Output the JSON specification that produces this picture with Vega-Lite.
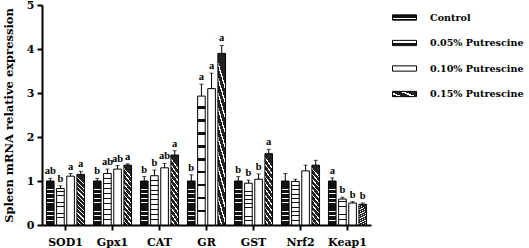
{
  "$schema": "https://vega.github.io/schema/vega-lite/v6.json",
  "autosize": {"type": "none"},
  "padding": {"left": 42, "top": 5, "right": 158, "bottom": 23},
  "width": 329,
  "height": 220,
  "config": {"view": {"stroke": null}, "font": "DejaVu Serif"},
  "params": [
    {"name": "g0", "value": {"gradient": "linear", "x1": 0, "y1": 0, "x2": 0, "y2": 1, "stops": [
      {"offset": 0, "color": "#111"}, {"offset": 0.08, "color": "#111"}, {"offset": 0.08, "color": "#fff"}, {"offset": 0.1, "color": "#fff"},
      {"offset": 0.1, "color": "#111"}, {"offset": 0.18, "color": "#111"}, {"offset": 0.18, "color": "#fff"}, {"offset": 0.2, "color": "#fff"},
      {"offset": 0.2, "color": "#111"}, {"offset": 0.28, "color": "#111"}, {"offset": 0.28, "color": "#fff"}, {"offset": 0.3, "color": "#fff"},
      {"offset": 0.3, "color": "#111"}, {"offset": 0.38, "color": "#111"}, {"offset": 0.38, "color": "#fff"}, {"offset": 0.4, "color": "#fff"},
      {"offset": 0.4, "color": "#111"}, {"offset": 0.48, "color": "#111"}, {"offset": 0.48, "color": "#fff"}, {"offset": 0.5, "color": "#fff"},
      {"offset": 0.5, "color": "#111"}, {"offset": 0.58, "color": "#111"}, {"offset": 0.58, "color": "#fff"}, {"offset": 0.6, "color": "#fff"},
      {"offset": 0.6, "color": "#111"}, {"offset": 0.68, "color": "#111"}, {"offset": 0.68, "color": "#fff"}, {"offset": 0.7, "color": "#fff"},
      {"offset": 0.7, "color": "#111"}, {"offset": 0.78, "color": "#111"}, {"offset": 0.78, "color": "#fff"}, {"offset": 0.8, "color": "#fff"},
      {"offset": 0.8, "color": "#111"}, {"offset": 0.88, "color": "#111"}, {"offset": 0.88, "color": "#fff"}, {"offset": 0.9, "color": "#fff"},
      {"offset": 0.9, "color": "#111"}, {"offset": 1, "color": "#111"}]}},
    {"name": "g1", "value": {"gradient": "linear", "x1": 0, "y1": 0, "x2": 0, "y2": 1, "stops": [
      {"offset": 0, "color": "#fff"}, {"offset": 0.08, "color": "#fff"}, {"offset": 0.08, "color": "#111"}, {"offset": 0.1, "color": "#111"},
      {"offset": 0.1, "color": "#fff"}, {"offset": 0.18, "color": "#fff"}, {"offset": 0.18, "color": "#111"}, {"offset": 0.2, "color": "#111"},
      {"offset": 0.2, "color": "#fff"}, {"offset": 0.28, "color": "#fff"}, {"offset": 0.28, "color": "#111"}, {"offset": 0.3, "color": "#111"},
      {"offset": 0.3, "color": "#fff"}, {"offset": 0.38, "color": "#fff"}, {"offset": 0.38, "color": "#111"}, {"offset": 0.4, "color": "#111"},
      {"offset": 0.4, "color": "#fff"}, {"offset": 0.48, "color": "#fff"}, {"offset": 0.48, "color": "#111"}, {"offset": 0.5, "color": "#111"},
      {"offset": 0.5, "color": "#fff"}, {"offset": 0.58, "color": "#fff"}, {"offset": 0.58, "color": "#111"}, {"offset": 0.6, "color": "#111"},
      {"offset": 0.6, "color": "#fff"}, {"offset": 0.68, "color": "#fff"}, {"offset": 0.68, "color": "#111"}, {"offset": 0.7, "color": "#111"},
      {"offset": 0.7, "color": "#fff"}, {"offset": 0.78, "color": "#fff"}, {"offset": 0.78, "color": "#111"}, {"offset": 0.8, "color": "#111"},
      {"offset": 0.8, "color": "#fff"}, {"offset": 0.88, "color": "#fff"}, {"offset": 0.88, "color": "#111"}, {"offset": 0.9, "color": "#111"},
      {"offset": 0.9, "color": "#fff"}, {"offset": 1, "color": "#fff"}]}},
    {"name": "g3", "value": {"gradient": "linear", "x1": 0, "y1": 1, "x2": 0.15, "y2": 0, "stops": [
      {"offset": 0, "color": "#222"}, {"offset": 0.06, "color": "#222"}, {"offset": 0.06, "color": "#fff"}, {"offset": 0.085, "color": "#fff"},
      {"offset": 0.085, "color": "#222"}, {"offset": 0.145, "color": "#222"}, {"offset": 0.145, "color": "#fff"}, {"offset": 0.17, "color": "#fff"},
      {"offset": 0.17, "color": "#222"}, {"offset": 0.23, "color": "#222"}, {"offset": 0.23, "color": "#fff"}, {"offset": 0.255, "color": "#fff"},
      {"offset": 0.255, "color": "#222"}, {"offset": 0.315, "color": "#222"}, {"offset": 0.315, "color": "#fff"}, {"offset": 0.34, "color": "#fff"},
      {"offset": 0.34, "color": "#222"}, {"offset": 0.4, "color": "#222"}, {"offset": 0.4, "color": "#fff"}, {"offset": 0.425, "color": "#fff"},
      {"offset": 0.425, "color": "#222"}, {"offset": 0.485, "color": "#222"}, {"offset": 0.485, "color": "#fff"}, {"offset": 0.51, "color": "#fff"},
      {"offset": 0.51, "color": "#222"}, {"offset": 0.57, "color": "#222"}, {"offset": 0.57, "color": "#fff"}, {"offset": 0.595, "color": "#fff"},
      {"offset": 0.595, "color": "#222"}, {"offset": 0.655, "color": "#222"}, {"offset": 0.655, "color": "#fff"}, {"offset": 0.68, "color": "#fff"},
      {"offset": 0.68, "color": "#222"}, {"offset": 0.74, "color": "#222"}, {"offset": 0.74, "color": "#fff"}, {"offset": 0.765, "color": "#fff"},
      {"offset": 0.765, "color": "#222"}, {"offset": 0.825, "color": "#222"}, {"offset": 0.825, "color": "#fff"}, {"offset": 0.85, "color": "#fff"},
      {"offset": 0.85, "color": "#222"}, {"offset": 0.91, "color": "#222"}, {"offset": 0.91, "color": "#fff"}, {"offset": 0.935, "color": "#fff"},
      {"offset": 0.935, "color": "#222"}, {"offset": 1, "color": "#222"}]}}
  ],
  "data": {"values": [
    {"gene": "SOD1", "group": "Control", "value": 1.0, "upper": 1.06, "letter": "ab"},
    {"gene": "SOD1", "group": "0.05% Putrescine", "value": 0.83, "upper": 0.89, "letter": "b"},
    {"gene": "SOD1", "group": "0.10% Putrescine", "value": 1.11, "upper": 1.17, "letter": "a"},
    {"gene": "SOD1", "group": "0.15% Putrescine", "value": 1.15, "upper": 1.22, "letter": "a"},
    {"gene": "Gpx1", "group": "Control", "value": 1.0, "upper": 1.06, "letter": "b"},
    {"gene": "Gpx1", "group": "0.05% Putrescine", "value": 1.17, "upper": 1.27, "letter": "ab"},
    {"gene": "Gpx1", "group": "0.10% Putrescine", "value": 1.27, "upper": 1.35, "letter": "ab"},
    {"gene": "Gpx1", "group": "0.15% Putrescine", "value": 1.36, "upper": 1.39, "letter": "a"},
    {"gene": "CAT", "group": "Control", "value": 1.0, "upper": 1.1, "letter": "b"},
    {"gene": "CAT", "group": "0.05% Putrescine", "value": 1.12, "upper": 1.25, "letter": "b"},
    {"gene": "CAT", "group": "0.10% Putrescine", "value": 1.3, "upper": 1.4, "letter": "ab"},
    {"gene": "CAT", "group": "0.15% Putrescine", "value": 1.59, "upper": 1.69, "letter": "a"},
    {"gene": "GR", "group": "Control", "value": 1.0, "upper": 1.14, "letter": "b"},
    {"gene": "GR", "group": "0.05% Putrescine", "value": 2.93, "upper": 3.2, "letter": "a"},
    {"gene": "GR", "group": "0.10% Putrescine", "value": 3.1, "upper": 3.45, "letter": "a"},
    {"gene": "GR", "group": "0.15% Putrescine", "value": 3.9, "upper": 4.08, "letter": "a"},
    {"gene": "GST", "group": "Control", "value": 1.0, "upper": 1.1, "letter": "b"},
    {"gene": "GST", "group": "0.05% Putrescine", "value": 0.95, "upper": 1.02, "letter": "b"},
    {"gene": "GST", "group": "0.10% Putrescine", "value": 1.04, "upper": 1.16, "letter": "b"},
    {"gene": "GST", "group": "0.15% Putrescine", "value": 1.62, "upper": 1.72, "letter": "a"},
    {"gene": "Nrf2", "group": "Control", "value": 1.0, "upper": 1.17, "letter": ""},
    {"gene": "Nrf2", "group": "0.05% Putrescine", "value": 0.99, "upper": 1.04, "letter": ""},
    {"gene": "Nrf2", "group": "0.10% Putrescine", "value": 1.23, "upper": 1.36, "letter": ""},
    {"gene": "Nrf2", "group": "0.15% Putrescine", "value": 1.36, "upper": 1.47, "letter": ""},
    {"gene": "Keap1", "group": "Control", "value": 1.0, "upper": 1.07, "letter": "a"},
    {"gene": "Keap1", "group": "0.05% Putrescine", "value": 0.59, "upper": 0.63, "letter": "b"},
    {"gene": "Keap1", "group": "0.10% Putrescine", "value": 0.5, "upper": 0.53, "letter": "b"},
    {"gene": "Keap1", "group": "0.15% Putrescine", "value": 0.47, "upper": 0.5, "letter": "b"}
  ]},
  "encoding": {
    "x": {"field": "gene", "type": "nominal", "sort": null,
      "scale": {"paddingInner": 0.19, "paddingOuter": 0.095},
      "axis": {"title": null, "labelAngle": 0, "labelFont": "DejaVu Serif", "labelFontWeight": "bold", "labelFontSize": 11, "labelColor": "#000", "labelPadding": 6,
        "domainColor": "#000", "domainWidth": 2, "tickColor": "#000", "tickWidth": 2, "tickSize": 5}},
    "xOffset": {"field": "group", "type": "nominal", "sort": ["Control", "0.05% Putrescine", "0.10% Putrescine", "0.15% Putrescine"], "scale": {"paddingInner": 0.25}}
  },
  "layer": [
    {
      "mark": {"type": "rule", "color": "#000", "strokeWidth": 1},
      "encoding": {
        "y": {"field": "value", "type": "quantitative"},
        "y2": {"field": "upper"}
      }
    },
    {
      "mark": {"type": "tick", "color": "#000", "size": 4, "thickness": 1},
      "encoding": {
        "y": {"field": "upper", "type": "quantitative"}
      }
    },
    {
      "mark": {"type": "bar", "stroke": "#000", "strokeWidth": 1},
      "encoding": {
        "y": {"field": "value", "type": "quantitative",
          "scale": {"domain": [0, 5], "nice": false},
          "axis": {"title": "Spleen mRNA relative expression", "titleFont": "DejaVu Serif", "titleFontWeight": "bold", "titleFontSize": 11.5, "titleColor": "#000", "titlePadding": 12,
            "values": [0, 1, 2, 3, 4, 5], "grid": false, "labelFont": "DejaVu Serif", "labelFontWeight": "bold", "labelFontSize": 11, "labelColor": "#000",
            "domainColor": "#000", "domainWidth": 2, "tickColor": "#000", "tickWidth": 2, "tickSize": 5, "labelPadding": 3}},
        "fill": {"field": "group", "type": "nominal",
          "scale": {"domain": ["Control", "0.05% Putrescine", "0.10% Putrescine", "0.15% Putrescine"],
            "range": [{"expr": "g0"}, {"expr": "g1"}, "#ffffff", {"expr": "g3"}]},
          "legend": {"title": null, "orient": "none", "legendX": 350, "legendY": 0, "padding": 0,
            "symbolType": "M-1,-0.22H1V0.22H-1Z", "symbolSize": 576, "symbolStrokeColor": "#000", "symbolStrokeWidth": 1,
            "labelFont": "DejaVu Serif", "labelFontWeight": "bold", "labelFontSize": 9.6, "labelColor": "#000", "labelOffset": 13, "rowPadding": 7.5, "labelLimit": 200}}
      }
    },
    {
      "mark": {"type": "text", "baseline": "bottom", "dy": -2, "font": "Liberation Serif", "fontWeight": "bold", "fontSize": 10.5, "color": "#000"},
      "encoding": {
        "y": {"field": "upper", "type": "quantitative"},
        "text": {"field": "letter"}
      }
    }
  ]
}
